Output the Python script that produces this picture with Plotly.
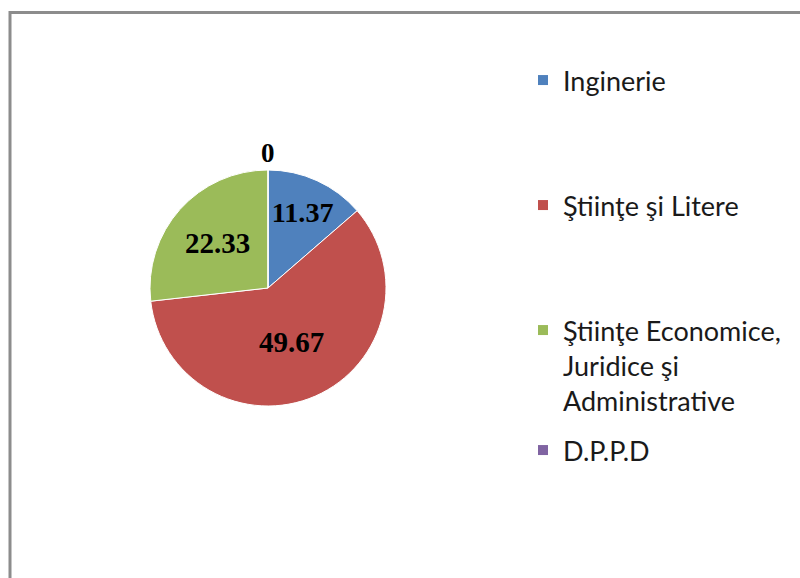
import plotly.graph_objects as go

categories = ["Inginerie", "Ştiinţe şi Litere",
              "Ştiinţe Economice,<br>Juridice şi<br>Administrative", "D.P.P.D"]
values = [11.37, 49.67, 22.33, 0]
colors = ["#4F81BD", "#C0504D", "#9BBB59", "#8064A2"]

W, H = 800, 578

fig = go.Figure()
fig.add_trace(go.Pie(
    labels=categories, values=values, sort=False, direction="clockwise", rotation=0,
    marker=dict(colors=colors, line=dict(color="white", width=1)),
    texttemplate="%{value:.2f}", textposition="inside", insidetextorientation="horizontal",
    textfont=dict(family="Liberation Serif", size=29, color="black", weight="bold"),
    showlegend=False, hoverinfo="label+value",
    domain=dict(x=[140 / W, 396 / W], y=[1 - 406 / H, 1 - 170 / H]),
))

legend_y = [80, 205, 330, 450]
legend_names = ["legend", "legend2", "legend3", "legend4"]
for cat, col, ln in zip(categories, colors, legend_names):
    fig.add_trace(go.Scatter(
        x=[None], y=[None], mode="markers", name=cat, legend=ln,
        marker=dict(symbol="square", size=10, color=col),
    ))

layout_legends = {}
for ln, yy in zip(legend_names, legend_y):
    layout_legends[ln] = dict(
        x=523 / W, y=1 - (yy - 24) / H, xanchor="left", yanchor="top",
        font=dict(family="Lato", size=27, color="#1a1a1a"),
        bgcolor="rgba(0,0,0,0)", valign="top", itemclick=False,
    )

fig.update_layout(
    width=W, height=H, margin=dict(l=0, r=0, t=0, b=0, autoexpand=False),
    paper_bgcolor="white", plot_bgcolor="white",
    xaxis=dict(visible=False), yaxis=dict(visible=False),
    **layout_legends,
)

# zero-value label for D.P.P.D
fig.add_annotation(
    x=268 / W, y=1 - 153 / H, xref="paper", yref="paper",
    xanchor="center", yanchor="middle",
    text=f"{values[3]:g}", showarrow=False,
    font=dict(family="Liberation Serif", size=27, color="black", weight="bold"),
)

# chart area border
fig.add_shape(type="rect", xref="paper", yref="paper",
              x0=10 / W, x1=1.02, y0=-0.02, y1=1 - 12.5 / H,
              line=dict(color="#8c8c8c", width=3), fillcolor="rgba(0,0,0,0)", layer="below")

fig.write_html("out.html", config={"displayModeBar": False},
               post_script="document.body.style.margin='0';")
